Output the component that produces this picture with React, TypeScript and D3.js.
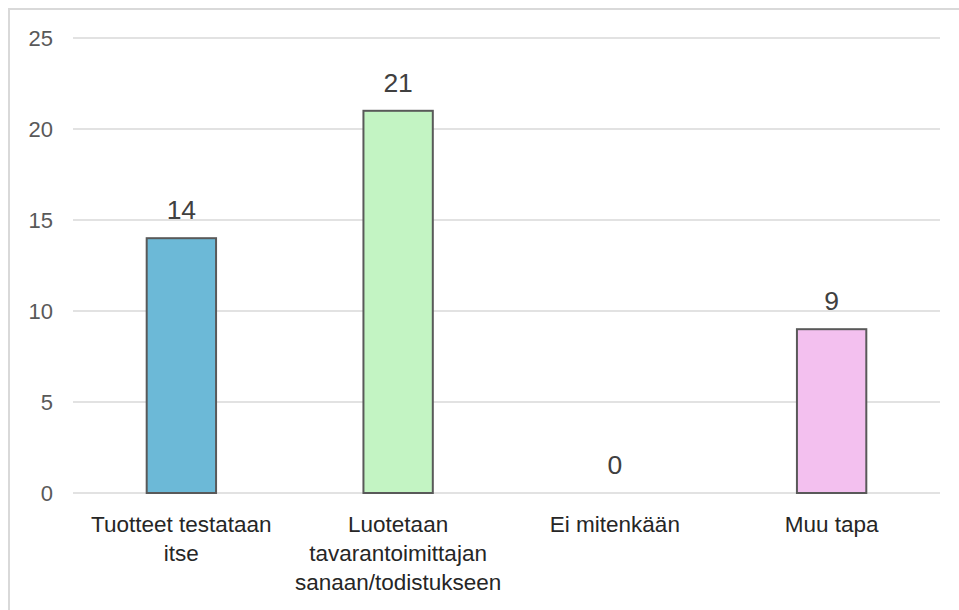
import React from "react";
import * as d3 from "d3";

const categories: string[][] = [
  ["Tuotteet testataan", "itse"],
  ["Luotetaan", "tavarantoimittajan", "sanaan/todistukseen"],
  ["Ei mitenkään"],
  ["Muu tapa"],
];
const values: number[] = [14, 21, 0, 9];
const colors: string[] = ["#6cb9d7", "#c3f4c3", "#c0c0c0", "#f3c0ef"];
const yTicks: number[] = [0, 5, 10, 15, 20, 25];

const W = 959;
const H = 610;
const FONT = "'Liberation Sans', Arial, sans-serif";

export default function App() {
  const left = 73;
  const right = 940;
  const top = 38;
  const bottom = 493;
  const x = d3
    .scaleBand<number>()
    .domain(values.map((_, i) => i))
    .range([left, right])
    .paddingInner(0)
    .paddingOuter(0);
  const y = d3.scaleLinear().domain([0, 25]).range([bottom, top]);
  const barW = x.bandwidth() * 0.32;

  return (
    <svg
      width={W}
      height={H}
      style={{ position: "absolute", left: 0, top: 0, background: "#fff" }}
      fontFamily={FONT}
    >
      <rect x={9} y={9} width={W + 10} height={H + 10} fill="#fff" stroke="#d9d9d9" strokeWidth={2} />
      {yTicks.map((t) => (
        <g key={t}>
          <line x1={left} x2={right} y1={y(t)} y2={y(t)} stroke="#d9d9d9" strokeWidth={1.6} />
          <text x={53} y={y(t)} dy="0.36em" textAnchor="end" fontSize={22} fill="#595959">
            {t}
          </text>
        </g>
      ))}
      {values.map((v, i) => {
        const cx = (x(i) as number) + x.bandwidth() / 2;
        return (
          <g key={i}>
            {v > 0 && (
              <rect
                x={cx - barW / 2}
                y={y(v)}
                width={barW}
                height={y(0) - y(v)}
                fill={colors[i]}
                stroke="#595959"
                strokeWidth={2}
              />
            )}
            <text x={cx} y={y(v) - 19} textAnchor="middle" fontSize={26.5} fill="#404040">
              {v}
            </text>
            {categories[i].map((line, j) => (
              <text key={j} x={cx} y={532 + j * 29} textAnchor="middle" fontSize={22.5} fill="#262626">
                {line}
              </text>
            ))}
          </g>
        );
      })}
    </svg>
  );
}
